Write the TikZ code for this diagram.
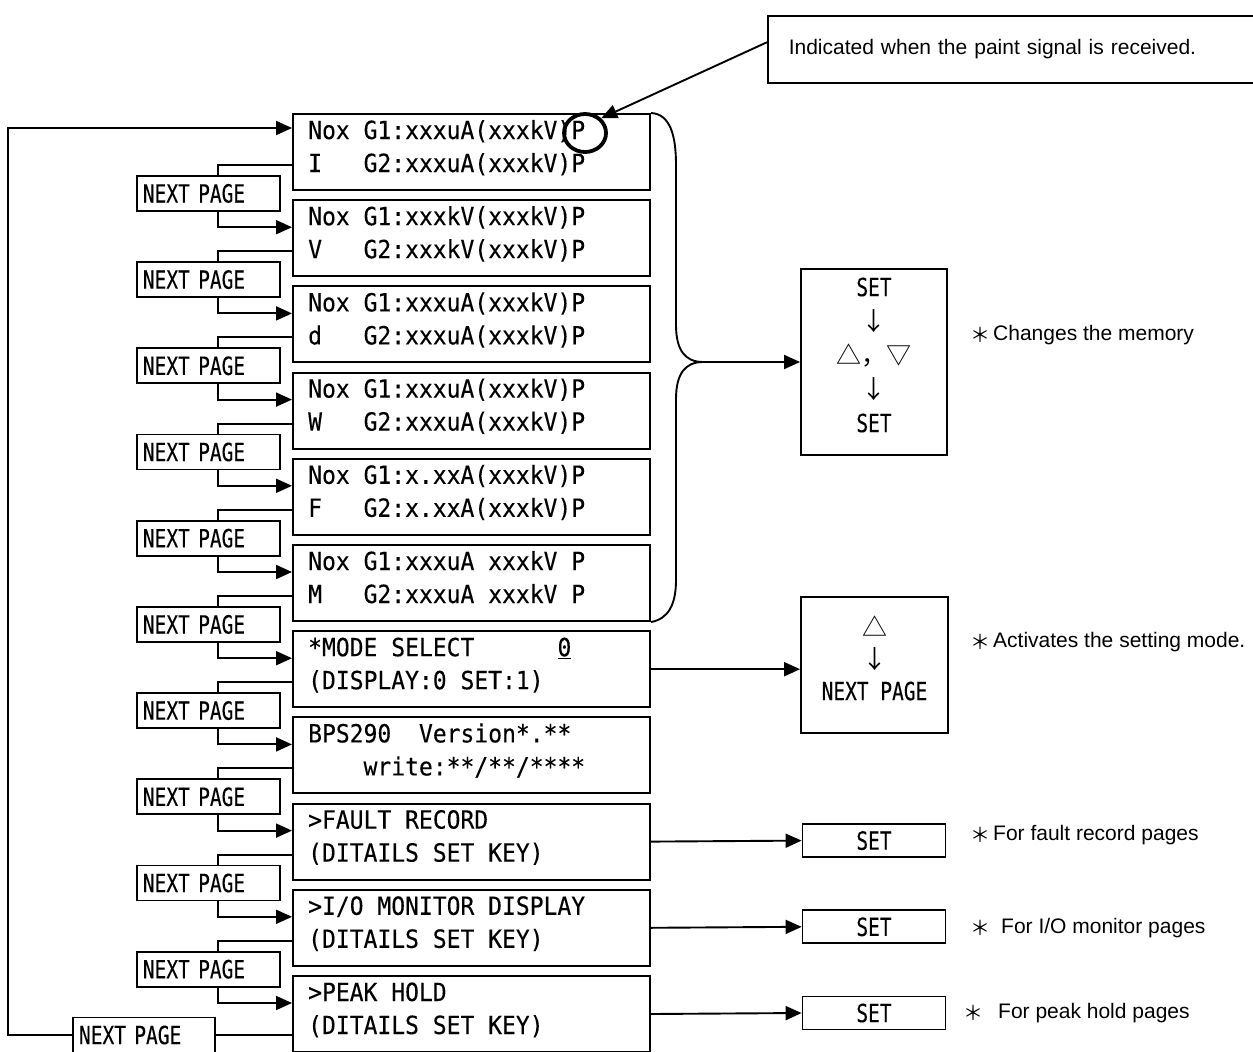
\documentclass[tikz,border=0pt]{standalone}
\usepackage{fontspec}
\setmainfont{Liberation Sans}
\newfontfamily\lcd[FakeStretch=0.92,FakeBold=0.25]{DejaVu Sans Mono}
\newfontfamily\npf[FakeStretch=0.78,FakeBold=0.25]{DejaVu Sans Mono}
\newfontfamily\cjk{Noto Sans CJK JP}
\usetikzlibrary{arrows.meta,calc,shapes.geometric}
\begin{document}
\begin{tikzpicture}[x=1pt,y=-1pt,
  lcd/.style={draw, line width=2pt, minimum width=357pt, minimum height=76pt, anchor=north west, inner sep=0pt},
  lt/.style={font=\lcd\fontsize{25}{28}\selectfont, anchor=base west, inner sep=0pt},
  npbox/.style={draw, line width=1.8pt, minimum width=143pt, minimum height=35pt, inner xsep=6pt, inner ysep=0pt, text width=131pt, align=left, font=\npf\fontsize{25}{28}\selectfont},
  setbox/.style={draw, line width=1.8pt, minimum width=143pt, minimum height=33pt, inner sep=0pt, font=\npf\fontsize{25}{28}\selectfont},
  rbox/.style={draw, line width=1.8pt, inner sep=0pt},
  conn/.style={line width=1.9pt},
  arr/.style={conn, -{Triangle[length=16pt,width=14pt]}},
  note/.style={font=\fontsize{21}{24}\selectfont, anchor=west, inner sep=0pt},
  ast/.style={font=\cjk\fontsize{20}{22}\selectfont, inner sep=0pt}
]
\useasboundingbox (0,0) rectangle (1253,1052);

% LCD boxes
\foreach \i in {1,...,11}{
  \pgfmathsetmacro\T{113+86.2*(\i-1)}
  \node[lcd] (l\i) at (292,\T) {};
}
% texts of boxes 1-6
\foreach \i/\c/\a in {1/I/xxxuA(xxxkV)P, 2/V/xxxkV(xxxkV)P, 3/d/xxxuA(xxxkV)P, 4/W/xxxuA(xxxkV)P, 5/F/x.xxA(xxxkV)P, 6/M/xxxuA\ xxxkV\ P}{
  \node[lt] (na\i) at ($(l\i.north west)+(16,26)$) {Nox};
  \node[lt] (ga\i) at ($(l\i.north west)+(71.4,26)$) {G1:\a};
  \node[lt] (nb\i) at ($(l\i.north west)+(16,59)$) {\c};
  \node[lt] (gb\i) at ($(l\i.north west)+(71.4,59)$) {G2:\a};
}
\node[lt] (m1) at ($(l7.north west)+(16,26)$) {*MODE SELECT};
\node[lt] (m0) at ($(l7.north west)+(265.3,26)$) {\underline{0}};
\node[lt] (m2) at ($(l7.north west)+(16,59)$) {(DISPLAY:0 SET:1)};
\node[lt] (v0) at ($(l8.north west)+(16,26)$) {BPS290};
\node[lt] (v1) at ($(l8.north west)+(126.8,26)$) {Version*.**};
\node[lt] (v2) at ($(l8.north west)+(71.4,59)$) {write:**/**/****};
\node[lt] (f1) at ($(l9.north west)+(16,26)$) {>FAULT RECORD};
\node[lt] (f2) at ($(l9.north west)+(16,59)$) {(DITAILS SET KEY)};
\node[lt] (i1) at ($(l10.north west)+(16,26)$) {>I/O MONITOR DISPLAY};
\node[lt] (i2) at ($(l10.north west)+(16,59)$) {(DITAILS SET KEY)};
\node[lt] (p1) at ($(l11.north west)+(16,26)$) {>PEAK HOLD};
\node[lt] (p2) at ($(l11.north west)+(16,59)$) {(DITAILS SET KEY)};

% NEXT PAGE boxes and connectors
\foreach \i in {1,...,10}{
  \pgfmathtruncatemacro\j{\i+1}
  \node[npbox, anchor=north west] (n\i) at ($(l\i.north west)+(-156,62)$) {NEXT PAGE};
  \draw[conn] ($(l\i.north west)+(0,52)$) -| ($(n\i.north west)+(82,0)$);
  \draw[arr] ($(n\i.south west)+(82,0)$) |- ($(l\j.north west)+(0,28)$);
}
\node[npbox, minimum width=142pt, text width=130pt] (n11) at (144,1035) {NEXT PAGE};
\draw[conn] ($(l11.north west)+(0,60)$) -- (n11.east);
\coordinate (loop) at (8,128);
\draw[arr] (n11.west) -| (loop) -- ($(l1.north west)+(0,15)$);

% paint indication
\node[draw, ellipse, line width=3.8pt, minimum width=42pt, minimum height=38pt, inner sep=0pt] (circ) at (585,133) {};
\node[draw, line width=1.5pt, anchor=north west, minimum width=500pt, minimum height=67pt, inner xsep=21pt, text width=458pt, align=left, font=\fontsize{21}{24}\selectfont] (paint) at (767,15) {Indicated when the paint signal is received.};
\draw[arr] ($(paint.west)+(0,-7)$) -- (circ.north east);

% brace
\coordinate (bt) at (703,362);
\draw[conn] (l1.north east) .. controls (670,114) and (676,135) .. (676,165) -- (676,325)
  .. controls (676,350) and (685,362) .. (bt)
  .. controls (685,362) and (676,374) .. (676,399) -- (676,580)
  .. controls (676,605) and (668,619) .. (l6.south east);

% right boxes
\node[rbox, minimum width=146pt, minimum height=186pt] (rb1) at (874,362) {};
\node[font=\npf\fontsize{25}{34}\selectfont, align=center, inner sep=0pt] (rt1) at (874,355) {SET\\{\cjk ↓}\\{\cjk △，▽}\\{\cjk ↓}\\SET};
\draw[arr] (bt) -- (rb1.west);
\node[rbox, minimum width=147pt, minimum height=136pt] (rb2) at (874.5,665) {};
\node[font=\npf\fontsize{25}{32}\selectfont, align=center, inner sep=0pt] (rt2) at (874.5,658) {{\cjk △}\\{\cjk ↓}\\NEXT PAGE};
\draw[arr] (l7.east) -- (l7.east -| rb2.west);

\node[setbox] (s1) at (874,840.6) {SET};
\node[setbox] (s2) at (874,926.8) {SET};
\node[setbox] (s3) at (874,1013) {SET};
\draw[arr] (l9.east) -- (s1.west);
\draw[arr] (l10.east) -- (s2.west);
\draw[arr] (l11.east) -- (s3.west);

% notes
\node[ast] (a1) at (980,335) {＊};
\node[note] (t1) at (993,335) {Changes the memory};
\node[ast] (a2) at (980,642) {＊};
\node[note] (t2) at (993,642) {Activates the setting mode.};
\node[ast] (a3) at (980,835) {＊};
\node[note] (t3) at (993,835) {For fault record pages};
\node[ast] (a4) at (980,928) {＊};
\node[note] (t4) at (1001,928) {For I/O monitor pages};
\node[ast] (a5) at (973,1013) {＊};
\node[note] (t5) at (998,1013) {For peak hold pages};
\end{tikzpicture}
\end{document}
